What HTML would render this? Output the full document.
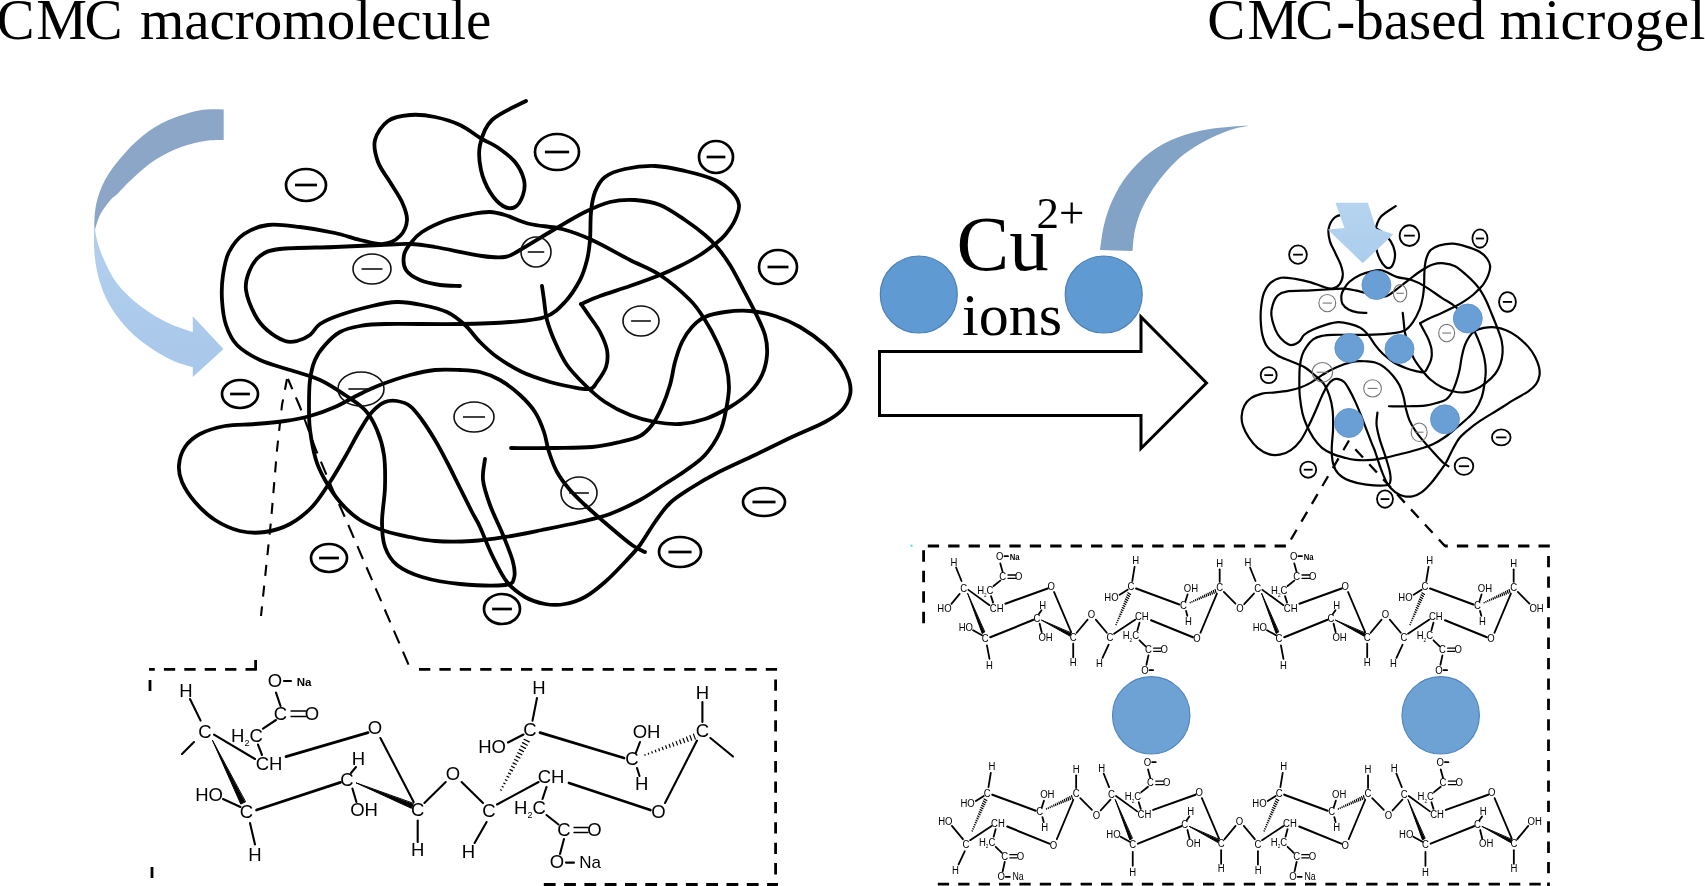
<!DOCTYPE html>
<html><head><meta charset="utf-8"><title>CMC microgel</title>
<style>html,body{margin:0;padding:0;background:#fff}body{width:1705px;height:886px;overflow:hidden}svg{display:block;filter:blur(0.4px)}text{font-family:"Liberation Sans",sans-serif;stroke:none}.s{font-family:"Liberation Serif",serif}path{vector-effect:non-scaling-stroke}.b{stroke-width:var(--bw)}.na{font-size:var(--na)}</style></head><body>
<svg width="1705" height="886" viewBox="0 0 1705 886">
<defs>
<g id="curves" fill="none" stroke="#000" stroke-linecap="round" stroke-linejoin="round"><path vector-effect="non-scaling-stroke" d="M526.0,101.0C520.3,104.2 499.7,112.7 492.0,120.0C484.3,127.3 481.8,136.7 480.0,145.0C478.2,153.3 479.3,162.2 481.0,170.0C482.7,177.8 486.3,186.0 490.0,192.0C493.7,198.0 498.8,203.5 503.0,206.0C507.2,208.5 511.7,208.8 515.0,207.0C518.3,205.2 521.5,199.5 523.0,195.0C524.5,190.5 525.3,185.5 524.0,180.0C522.7,174.5 519.5,167.5 515.0,162.0C510.5,156.5 502.5,150.8 497.0,147.0C491.5,143.2 488.2,142.7 482.0,139.0C475.8,135.3 467.8,128.7 460.0,125.0C452.2,121.3 443.3,118.7 435.0,117.0C426.7,115.3 417.8,114.3 410.0,115.0C402.2,115.7 393.8,116.8 388.0,121.0C382.2,125.2 376.7,133.2 375.0,140.0C373.3,146.8 375.5,155.0 378.0,162.0C380.5,169.0 386.0,175.3 390.0,182.0C394.0,188.7 399.2,195.7 402.0,202.0C404.8,208.3 407.3,214.3 407.0,220.0C406.7,225.7 404.0,232.0 400.0,236.0C396.0,240.0 389.7,243.3 383.0,244.0C376.3,244.7 368.0,241.8 360.0,240.0C352.0,238.2 345.0,235.2 335.0,233.0C325.0,230.8 311.2,228.3 300.0,227.0C288.8,225.7 277.3,223.8 268.0,225.0C258.7,226.2 250.5,229.5 244.0,234.0C237.5,238.5 232.5,245.2 229.0,252.0C225.5,258.8 224.2,267.0 223.0,275.0C221.8,283.0 221.5,291.7 222.0,300.0C222.5,308.3 223.5,317.5 226.0,325.0C228.5,332.5 231.3,339.2 237.0,345.0C242.7,350.8 251.2,355.8 260.0,360.0C268.8,364.2 280.0,366.7 290.0,370.0C300.0,373.3 310.8,375.8 320.0,380.0C329.2,384.2 337.5,390.0 345.0,395.0C352.5,400.0 359.7,404.2 365.0,410.0C370.3,415.8 373.8,422.5 377.0,430.0C380.2,437.5 382.7,445.5 384.0,455.0C385.3,464.5 385.3,475.8 385.0,487.0C384.7,498.2 382.0,512.0 382.0,522.0C382.0,532.0 382.5,539.8 385.0,547.0C387.5,554.2 390.8,560.0 397.0,565.0C403.2,570.0 411.5,573.8 422.0,577.0C432.5,580.2 446.2,582.7 460.0,584.0C473.8,585.3 496.0,586.0 505.0,585.0C514.0,584.0 512.7,581.8 514.0,578.0C515.3,574.2 514.8,569.2 513.0,562.0C511.2,554.8 506.8,544.5 503.0,535.0C499.2,525.5 493.3,514.2 490.0,505.0C486.7,495.8 483.8,487.7 483.0,480.0C482.2,472.3 484.7,462.5 485.0,459.0"/><path vector-effect="non-scaling-stroke" d="M542.0,286.0C542.3,288.3 543.2,294.3 544.0,300.0C544.8,305.7 545.2,313.0 547.0,320.0C548.8,327.0 551.7,334.5 555.0,342.0C558.3,349.5 562.0,357.8 567.0,365.0C572.0,372.2 578.7,378.8 585.0,385.0C591.3,391.2 597.5,397.0 605.0,402.0C612.5,407.0 621.7,411.7 630.0,415.0C638.3,418.3 646.7,420.5 655.0,422.0C663.3,423.5 671.7,424.5 680.0,424.0C688.3,423.5 696.7,421.8 705.0,419.0C713.3,416.2 722.5,411.5 730.0,407.0C737.5,402.5 744.7,397.3 750.0,392.0C755.3,386.7 759.2,381.2 762.0,375.0C764.8,368.8 766.5,361.7 767.0,355.0C767.5,348.3 767.0,342.2 765.0,335.0C763.0,327.8 758.8,320.0 755.0,312.0C751.2,304.0 746.2,294.8 742.0,287.0C737.8,279.2 734.2,271.7 730.0,265.0C725.8,258.3 721.2,252.0 717.0,247.0C712.8,242.0 710.3,239.5 705.0,235.0C699.7,230.5 692.5,225.0 685.0,220.0C677.5,215.0 668.3,208.3 660.0,205.0C651.7,201.7 643.3,200.5 635.0,200.0C626.7,199.5 618.3,200.0 610.0,202.0C601.7,204.0 594.2,207.5 585.0,212.0C575.8,216.5 565.8,222.7 555.0,229.0C544.2,235.3 528.3,245.3 520.0,250.0C511.7,254.7 511.3,256.0 505.0,257.0C498.7,258.0 493.7,257.7 482.0,256.0C470.3,254.3 447.0,249.0 435.0,247.0C423.0,245.0 419.2,244.3 410.0,244.0C400.8,243.7 392.5,244.5 380.0,245.0C367.5,245.5 351.7,246.3 335.0,247.0C318.3,247.7 292.5,247.5 280.0,249.0C267.5,250.5 265.2,252.2 260.0,256.0C254.8,259.8 251.3,266.3 249.0,272.0C246.7,277.7 245.0,282.8 246.0,290.0C247.0,297.2 251.5,308.3 255.0,315.0C258.5,321.7 262.0,325.7 267.0,330.0C272.0,334.3 280.0,339.2 285.0,341.0C290.0,342.8 292.8,342.0 297.0,341.0C301.2,340.0 306.2,337.8 310.0,335.0C313.8,332.2 315.0,327.3 320.0,324.0C325.0,320.7 331.3,318.0 340.0,315.0C348.7,312.0 362.5,308.2 372.0,306.0C381.5,303.8 388.7,302.2 397.0,302.0C405.3,301.8 413.7,303.3 422.0,305.0C430.3,306.7 439.8,308.7 447.0,312.0C454.2,315.3 459.5,320.0 465.0,325.0C470.5,330.0 474.7,336.7 480.0,342.0C485.3,347.3 490.0,352.0 497.0,357.0C504.0,362.0 513.2,367.8 522.0,372.0C530.8,376.2 541.7,379.5 550.0,382.0C558.3,384.5 565.3,385.8 572.0,387.0C578.7,388.2 585.8,389.8 590.0,389.0C594.2,388.2 594.3,385.7 597.0,382.0C599.7,378.3 604.3,372.3 606.0,367.0C607.7,361.7 608.0,355.8 607.0,350.0C606.0,344.2 602.8,337.5 600.0,332.0C597.2,326.5 593.2,321.7 590.0,317.0C586.8,312.3 582.5,306.2 581.0,304.0"/><path vector-effect="non-scaling-stroke" d="M581.0,304.0C584.2,302.7 591.8,299.0 600.0,296.0C608.2,293.0 620.0,289.5 630.0,286.0C640.0,282.5 651.7,278.3 660.0,275.0C668.3,271.7 673.3,269.3 680.0,266.0C686.7,262.7 694.2,258.7 700.0,255.0C705.8,251.3 710.8,247.3 715.0,244.0C719.2,240.7 721.7,239.0 725.0,235.0C728.3,231.0 732.7,225.0 735.0,220.0C737.3,215.0 739.5,209.7 739.0,205.0C738.5,200.3 736.0,196.2 732.0,192.0C728.0,187.8 722.8,183.5 715.0,180.0C707.2,176.5 695.0,173.3 685.0,171.0C675.0,168.7 665.0,166.3 655.0,166.0C645.0,165.7 633.3,167.2 625.0,169.0C616.7,170.8 610.0,173.2 605.0,177.0C600.0,180.8 597.3,186.2 595.0,192.0C592.7,197.8 591.8,204.0 591.0,212.0C590.2,220.0 590.7,232.0 590.0,240.0C589.3,248.0 588.7,253.3 587.0,260.0C585.3,266.7 583.7,273.0 580.0,280.0C576.3,287.0 570.8,295.8 565.0,302.0C559.2,308.2 554.2,313.7 545.0,317.0C535.8,320.3 524.2,320.8 510.0,322.0C495.8,323.2 480.8,323.7 460.0,324.0C439.2,324.3 401.7,323.7 385.0,324.0C368.3,324.3 367.5,324.7 360.0,326.0C352.5,327.3 345.8,328.8 340.0,332.0C334.2,335.2 329.2,340.3 325.0,345.0C320.8,349.7 317.5,354.2 315.0,360.0C312.5,365.8 311.0,372.5 310.0,380.0C309.0,387.5 309.0,396.7 309.0,405.0C309.0,413.3 308.8,420.8 310.0,430.0C311.2,439.2 313.5,451.7 316.0,460.0C318.5,468.3 321.0,473.0 325.0,480.0C329.0,487.0 334.2,495.3 340.0,502.0C345.8,508.7 352.5,515.2 360.0,520.0C367.5,524.8 376.7,528.2 385.0,531.0C393.3,533.8 401.7,535.3 410.0,537.0C418.3,538.7 424.7,540.3 435.0,541.0C445.3,541.7 460.3,541.7 472.0,541.0C483.7,540.3 493.3,538.8 505.0,537.0C516.7,535.2 529.5,532.5 542.0,530.0C554.5,527.5 568.7,524.7 580.0,522.0C591.3,519.3 600.0,517.7 610.0,514.0C620.0,510.3 630.8,505.0 640.0,500.0C649.2,495.0 657.5,488.8 665.0,484.0C672.5,479.2 678.3,475.8 685.0,471.0C691.7,466.2 699.2,461.5 705.0,455.0C710.8,448.5 716.5,439.5 720.0,432.0C723.5,424.5 724.5,417.5 726.0,410.0C727.5,402.5 729.0,394.5 729.0,387.0C729.0,379.5 728.0,372.5 726.0,365.0C724.0,357.5 720.5,349.5 717.0,342.0C713.5,334.5 709.5,327.0 705.0,320.0C700.5,313.0 697.5,307.5 690.0,300.0C682.5,292.5 670.0,281.7 660.0,275.0C650.0,268.3 641.3,265.8 630.0,260.0C618.7,254.2 603.3,245.2 592.0,240.0C580.7,234.8 572.3,231.7 562.0,229.0C551.7,226.3 539.5,226.3 530.0,224.0C520.5,221.7 511.7,217.0 505.0,215.0C498.3,213.0 495.5,212.2 490.0,212.0C484.5,211.8 479.2,212.7 472.0,214.0C464.8,215.3 455.3,217.0 447.0,220.0C438.7,223.0 428.2,228.0 422.0,232.0C415.8,236.0 413.0,240.2 410.0,244.0C407.0,247.8 404.7,250.7 404.0,255.0C403.3,259.3 403.3,265.8 406.0,270.0C408.7,274.2 414.3,277.5 420.0,280.0C425.7,282.5 433.3,284.0 440.0,285.0C446.7,286.0 456.7,285.8 460.0,286.0"/><path vector-effect="non-scaling-stroke" d="M645.0,552.0C642.8,550.8 637.8,549.2 632.0,545.0C626.2,540.8 617.8,533.7 610.0,527.0C602.2,520.3 591.7,511.2 585.0,505.0C578.3,498.8 574.7,495.5 570.0,490.0C565.3,484.5 560.5,478.3 557.0,472.0C553.5,465.7 551.2,458.7 549.0,452.0C546.8,445.3 546.3,438.7 544.0,432.0C541.7,425.3 539.0,418.2 535.0,412.0C531.0,405.8 525.8,400.3 520.0,395.0C514.2,389.7 506.7,383.8 500.0,380.0C493.3,376.2 486.7,373.7 480.0,372.0C473.3,370.3 467.5,370.3 460.0,370.0C452.5,369.7 443.3,369.2 435.0,370.0C426.7,370.8 419.2,372.5 410.0,375.0C400.8,377.5 388.3,381.8 380.0,385.0C371.7,388.2 367.5,390.3 360.0,394.0C352.5,397.7 343.3,403.3 335.0,407.0C326.7,410.7 318.3,413.7 310.0,416.0C301.7,418.3 294.2,419.7 285.0,421.0C275.8,422.3 265.0,423.2 255.0,424.0C245.0,424.8 234.2,424.3 225.0,426.0C215.8,427.7 206.7,430.5 200.0,434.0C193.3,437.5 188.5,441.8 185.0,447.0C181.5,452.2 179.5,459.2 179.0,465.0C178.5,470.8 179.3,475.8 182.0,482.0C184.7,488.2 189.5,495.7 195.0,502.0C200.5,508.3 207.5,515.2 215.0,520.0C222.5,524.8 231.7,529.0 240.0,531.0C248.3,533.0 256.7,533.2 265.0,532.0C273.3,530.8 282.2,528.2 290.0,524.0C297.8,519.8 305.3,514.0 312.0,507.0C318.7,500.0 324.5,490.3 330.0,482.0C335.5,473.7 340.0,465.7 345.0,457.0C350.0,448.3 355.5,437.5 360.0,430.0C364.5,422.5 367.8,416.7 372.0,412.0C376.2,407.3 380.8,403.8 385.0,402.0C389.2,400.2 392.8,400.3 397.0,401.0C401.2,401.7 405.8,402.8 410.0,406.0C414.2,409.2 417.8,414.3 422.0,420.0C426.2,425.7 430.8,433.0 435.0,440.0C439.2,447.0 442.8,454.0 447.0,462.0C451.2,470.0 455.8,479.7 460.0,488.0C464.2,496.3 468.7,505.5 472.0,512.0C475.3,518.5 476.7,519.8 480.0,527.0C483.3,534.2 487.5,545.8 492.0,555.0C496.5,564.2 501.5,575.0 507.0,582.0C512.5,589.0 518.7,593.3 525.0,597.0C531.3,600.7 538.3,602.8 545.0,604.0C551.7,605.2 558.3,605.2 565.0,604.0C571.7,602.8 578.3,600.7 585.0,597.0C591.7,593.3 598.3,587.8 605.0,582.0C611.7,576.2 619.2,568.2 625.0,562.0C630.8,555.8 635.0,551.7 640.0,545.0C645.0,538.3 650.0,529.0 655.0,522.0C660.0,515.0 664.0,508.7 670.0,503.0C676.0,497.3 683.2,493.0 691.0,488.0C698.8,483.0 706.3,478.5 717.0,473.0C727.7,467.5 742.5,461.0 755.0,455.0C767.5,449.0 780.3,442.5 792.0,437.0C803.7,431.5 816.7,426.5 825.0,422.0C833.3,417.5 837.8,414.5 842.0,410.0C846.2,405.5 848.8,400.0 850.0,395.0C851.2,390.0 850.7,385.5 849.0,380.0C847.3,374.5 844.0,367.8 840.0,362.0C836.0,356.2 831.7,350.8 825.0,345.0C818.3,339.2 808.3,331.8 800.0,327.0C791.7,322.2 783.3,318.7 775.0,316.0C766.7,313.3 758.3,311.7 750.0,311.0C741.7,310.3 732.5,311.0 725.0,312.0C717.5,313.0 710.5,314.5 705.0,317.0C699.5,319.5 695.8,322.8 692.0,327.0C688.2,331.2 684.8,336.2 682.0,342.0C679.2,347.8 677.0,354.8 675.0,362.0C673.0,369.2 672.2,377.5 670.0,385.0C667.8,392.5 665.0,400.3 662.0,407.0C659.0,413.7 655.7,420.2 652.0,425.0C648.3,429.8 645.3,433.2 640.0,436.0C634.7,438.8 628.0,440.2 620.0,442.0C612.0,443.8 602.8,446.0 592.0,447.0C581.2,448.0 568.5,447.8 555.0,448.0C541.5,448.2 518.3,448.0 511.0,448.0"/></g>
<g id="outer" fill="none" stroke="#000"><ellipse vector-effect="non-scaling-stroke" cx="306" cy="185" rx="20" ry="16"/><path vector-effect="non-scaling-stroke" d="M295,185H317"/><ellipse vector-effect="non-scaling-stroke" cx="557" cy="152" rx="22" ry="18"/><path vector-effect="non-scaling-stroke" d="M544.9,152H569.1"/><ellipse vector-effect="non-scaling-stroke" cx="716" cy="157" rx="17" ry="16"/><path vector-effect="non-scaling-stroke" d="M706.65,157H725.35"/><ellipse vector-effect="non-scaling-stroke" cx="778" cy="267" rx="19" ry="17"/><path vector-effect="non-scaling-stroke" d="M767.55,267H788.45"/><ellipse vector-effect="non-scaling-stroke" cx="240" cy="394" rx="18" ry="14"/><path vector-effect="non-scaling-stroke" d="M230.1,394H249.9"/><ellipse vector-effect="non-scaling-stroke" cx="329" cy="558" rx="18" ry="14"/><path vector-effect="non-scaling-stroke" d="M319.1,558H338.9"/><ellipse vector-effect="non-scaling-stroke" cx="502" cy="609" rx="18" ry="15"/><path vector-effect="non-scaling-stroke" d="M492.1,609H511.9"/><ellipse vector-effect="non-scaling-stroke" cx="680" cy="552" rx="21" ry="15"/><path vector-effect="non-scaling-stroke" d="M668.45,552H691.55"/><ellipse vector-effect="non-scaling-stroke" cx="764" cy="502" rx="21" ry="14"/><path vector-effect="non-scaling-stroke" d="M752.45,502H775.55"/></g>
<g id="inner" fill="none"><ellipse vector-effect="non-scaling-stroke" cx="372" cy="269" rx="19" ry="15"/><path vector-effect="non-scaling-stroke" d="M361.55,269H382.45"/><ellipse vector-effect="non-scaling-stroke" cx="536" cy="252" rx="15" ry="15"/><path vector-effect="non-scaling-stroke" d="M527.75,252H544.25"/><ellipse vector-effect="non-scaling-stroke" cx="641" cy="321" rx="18" ry="15"/><path vector-effect="non-scaling-stroke" d="M631.1,321H650.9"/><ellipse vector-effect="non-scaling-stroke" cx="361" cy="389" rx="23" ry="17"/><path vector-effect="non-scaling-stroke" d="M348.35,389H373.65"/><ellipse vector-effect="non-scaling-stroke" cx="474" cy="417" rx="20" ry="15"/><path vector-effect="non-scaling-stroke" d="M463,417H485"/><ellipse vector-effect="non-scaling-stroke" cx="579" cy="493" rx="18" ry="16"/><path vector-effect="non-scaling-stroke" d="M569.1,493H588.9"/></g>
<g id="r1"><text x="186" y="696.55" font-size="18.5" text-anchor="middle">H</text><text x="205" y="737.55" font-size="18.5" text-anchor="middle">C</text><text x="231" y="741.55" font-size="18.5">H<tspan font-size="9" dy="4">2</tspan><tspan dy="-4">C</tspan></text><text x="269" y="769.55" font-size="18.5" text-anchor="middle">CH</text><text x="280.5" y="719.55" font-size="18.5" text-anchor="middle">C</text><text x="312" y="719.55" font-size="18.5" text-anchor="middle">O</text><path d="M291,711L306,711" stroke-width="1.3"/><path d="M291,716.5L306,716.5" stroke-width="1.3"/><text x="275" y="686.55" font-size="18.5" text-anchor="middle">O</text><text x="375" y="734.15" font-size="18.5" text-anchor="middle">O</text><text x="358.5" y="764.55" font-size="18.5" text-anchor="middle">H</text><text x="347" y="786.05" font-size="18.5" text-anchor="middle">C</text><text x="209" y="800.55" font-size="18.5" text-anchor="middle">HO</text><text x="246.4" y="817.55" font-size="18.5" text-anchor="middle">C</text><text x="364" y="816.15" font-size="18.5" text-anchor="middle">OH</text><text x="417.7" y="815.55" font-size="18.5" text-anchor="middle">C</text><text x="255" y="860.55" font-size="18.5" text-anchor="middle">H</text><text x="417.7" y="855.55" font-size="18.5" text-anchor="middle">H</text><path d="M190,699L200.6,720.6"/><path d="M214,734.7L255,759"/><path d="M212.6,740.6L240.753,804.095L245.247,801.905Z" fill="#000" stroke-width="1"/><path d="M223,799L240.5,807"/><path d="M250,823L255,844.5"/><path d="M256.5,810L340.5,782.4" class="b"/><path d="M286,756.6L368,732.6" class="b"/><path d="M258,744.6L262,755"/><path d="M263,728.6L276,720"/><path d="M276,692.6L280.5,706"/><path d="M380.4,738L413.7,802"/><path d="M356,767L351,773"/><path d="M352.4,788.5L356.4,802"/><path d="M356.4,783L411.45,808.313L413.35,803.687Z" fill="#000" stroke-width="1"/><path d="M417.7,820.5L417.7,842"/></g>
<g id="na1"><path d="M284,681L291,681"/><text x="304" y="686.45" font-size="11.5" text-anchor="middle" font-weight="bold" class="na">Na</text></g>
<g id="mi1"><path d="M284,681L291,681"/></g>
<g id="stubL"><path d="M194,742L182,754"/></g>
<g id="capL"><path d="M197,741L181,757"/><text x="167.5" y="770.55" font-size="18.5" text-anchor="middle">HO</text></g>
<g id="link1"><text x="453" y="780.25" font-size="18.5" text-anchor="middle">O</text><path d="M424.4,803L445.7,782"/><path d="M461.6,782L483,803"/></g>
<g id="capL1"><text x="449" y="780.25" font-size="18.5" text-anchor="middle">HO</text><path d="M461.6,782L483,803"/></g>
<g id="capR1"><text x="458" y="780.25" font-size="18.5" text-anchor="middle">OH</text><path d="M424.4,803L445.7,782"/></g>
<g id="r2"><text x="489" y="816.55" font-size="18.5" text-anchor="middle">C</text><text x="468.5" y="858.05" font-size="18.5" text-anchor="middle">H</text><text x="551" y="783.05" font-size="18.5" text-anchor="middle">CH</text><text x="514" y="813.55" font-size="18.5">H<tspan font-size="9" dy="4">2</tspan><tspan dy="-4">C</tspan></text><text x="564" y="835.55" font-size="18.5" text-anchor="middle">C</text><text x="594.5" y="835.55" font-size="18.5" text-anchor="middle">O</text><path d="M574,827.5L588,827.5" stroke-width="1.3"/><path d="M574,832.5L588,832.5" stroke-width="1.3"/><text x="557" y="868.15" font-size="18.5" text-anchor="middle">O</text><text x="492" y="752.55" font-size="18.5" text-anchor="middle">HO</text><text x="530" y="735.55" font-size="18.5" text-anchor="middle">C</text><text x="539" y="693.55" font-size="18.5" text-anchor="middle">H</text><text x="646.5" y="738.15" font-size="18.5" text-anchor="middle">OH</text><text x="632" y="765.25" font-size="18.5" text-anchor="middle">C</text><text x="641.6" y="790.05" font-size="18.5" text-anchor="middle">H</text><text x="658.4" y="818.05" font-size="18.5" text-anchor="middle">O</text><text x="702.4" y="698.55" font-size="18.5" text-anchor="middle">H</text><text x="702.4" y="736.55" font-size="18.5" text-anchor="middle">C</text><path d="M537,698L532.5,720.6"/><path d="M508,742.5L523.5,734.5"/><path d="M540,732.6L624,758" class="b"/><path d="M529.2,741.9L524.0,739.3M527.3,745.2L522.5,742.6M525.5,748.4L520.9,746.0M523.6,751.6L519.3,749.4M521.8,754.8L517.8,752.7M519.9,758.0L516.2,756.1M518.0,761.2L514.7,759.5M516.2,764.5L513.1,762.9M514.3,767.7L511.6,766.2M512.5,770.9L510.0,769.6M510.6,774.1L508.4,773.0M508.8,777.3L506.9,776.3M506.9,780.5L505.3,779.7M505.1,783.8L503.8,783.1M503.2,787.0L502.2,786.4M501.4,790.2L500.6,789.8" stroke-width="1.2"/><path d="M486.6,822L474.6,843"/><path d="M497,804.5L538.6,782"/><path d="M546.5,787L542.5,799"/><path d="M569,783L650.4,810" class="b"/><path d="M546.5,815L558.5,824.5"/><path d="M564,839L560,854"/><path d="M640,742L636,752.5"/><path d="M637,768L639.5,776"/><path d="M695.3,739.1L693.5,734.1M691.7,740.2L690.0,735.6M688.2,741.4L686.5,737.0M684.6,742.6L683.1,738.5M681.0,743.7L679.6,740.0M677.4,744.9L676.1,741.4M673.8,746.1L672.6,742.9M670.2,747.2L669.2,744.4M666.6,748.4L665.7,745.8M663.1,749.6L662.2,747.3M659.5,750.7L658.8,748.8M655.9,751.9L655.3,750.2M652.3,753.0L651.8,751.7M648.7,754.2L648.3,753.2M645.1,755.4L644.9,754.6" stroke-width="1.2"/><path d="M702.4,702L702.4,722"/><path d="M697,740.6L665,803"/></g>
<g id="r1v"><text x="186" y="696.55" font-size="18.5" text-anchor="middle">H</text><text x="205" y="737.55" font-size="18.5" text-anchor="middle">C</text><text x="231" y="741.55" font-size="18.5">H<tspan font-size="9" dy="4">2</tspan><tspan dy="-4">C</tspan></text><text x="269" y="769.55" font-size="18.5" text-anchor="middle">CH</text><text x="280.5" y="719.55" font-size="18.5" text-anchor="middle">C</text><text x="312" y="719.55" font-size="18.5" text-anchor="middle">O</text><path d="M291,711L306,711" stroke-width="1.3"/><path d="M291,716.5L306,716.5" stroke-width="1.3"/><text x="275" y="686.55" font-size="18.5" text-anchor="middle">O</text><text x="375" y="734.15" font-size="18.5" text-anchor="middle">O</text><text x="358.5" y="764.55" font-size="18.5" text-anchor="middle">H</text><text x="347" y="786.05" font-size="18.5" text-anchor="middle">C</text><text x="209" y="800.55" font-size="18.5" text-anchor="middle">HO</text><text x="246.4" y="817.55" font-size="18.5" text-anchor="middle">C</text><text x="364" y="816.15" font-size="18.5" text-anchor="middle">OH</text><text x="417.7" y="815.55" font-size="18.5" text-anchor="middle">C</text><text x="246.4" y="861.55" font-size="18.5" text-anchor="middle">H</text><text x="417.7" y="855.55" font-size="18.5" text-anchor="middle">H</text><path d="M190,699L200.6,720.6"/><path d="M214,734.7L255,759"/><path d="M212.6,740.6L240.753,804.095L245.247,801.905Z" fill="#000" stroke-width="1"/><path d="M223,799L240.5,807"/><path d="M246.4,823L246.4,845"/><path d="M256.5,810L340.5,782.4" class="b"/><path d="M286,756.6L368,732.6" class="b"/><path d="M258,744.6L262,755"/><path d="M263,728.6L276,720"/><path d="M276,692.6L280.5,706"/><path d="M380.4,738L413.7,802"/><path d="M356,767L351,773"/><path d="M352.4,788.5L356.4,802"/><path d="M356.4,783L411.45,808.313L413.35,803.687Z" fill="#000" stroke-width="1"/><path d="M417.7,820.5L417.7,842"/></g>
<g id="r2v"><text x="489" y="816.55" font-size="18.5" text-anchor="middle">C</text><text x="489.5" y="858.55" font-size="18.5" text-anchor="middle">H</text><text x="551" y="783.05" font-size="18.5" text-anchor="middle">CH</text><text x="514" y="813.55" font-size="18.5">H<tspan font-size="9" dy="4">2</tspan><tspan dy="-4">C</tspan></text><text x="564" y="835.55" font-size="18.5" text-anchor="middle">C</text><text x="594.5" y="835.55" font-size="18.5" text-anchor="middle">O</text><path d="M574,827.5L588,827.5" stroke-width="1.3"/><path d="M574,832.5L588,832.5" stroke-width="1.3"/><text x="557" y="868.15" font-size="18.5" text-anchor="middle">O</text><text x="492" y="752.55" font-size="18.5" text-anchor="middle">HO</text><text x="530" y="735.55" font-size="18.5" text-anchor="middle">C</text><text x="539" y="693.55" font-size="18.5" text-anchor="middle">H</text><text x="646.5" y="738.15" font-size="18.5" text-anchor="middle">OH</text><text x="632" y="765.25" font-size="18.5" text-anchor="middle">C</text><text x="641.6" y="790.05" font-size="18.5" text-anchor="middle">H</text><text x="658.4" y="818.05" font-size="18.5" text-anchor="middle">O</text><text x="702.4" y="698.55" font-size="18.5" text-anchor="middle">H</text><text x="702.4" y="736.55" font-size="18.5" text-anchor="middle">C</text><path d="M537,698L532.5,720.6"/><path d="M508,742.5L523.5,734.5"/><path d="M540,732.6L624,758" class="b"/><path d="M529.2,741.9L524.0,739.3M527.3,745.2L522.5,742.6M525.5,748.4L520.9,746.0M523.6,751.6L519.3,749.4M521.8,754.8L517.8,752.7M519.9,758.0L516.2,756.1M518.0,761.2L514.7,759.5M516.2,764.5L513.1,762.9M514.3,767.7L511.6,766.2M512.5,770.9L510.0,769.6M510.6,774.1L508.4,773.0M508.8,777.3L506.9,776.3M506.9,780.5L505.3,779.7M505.1,783.8L503.8,783.1M503.2,787.0L502.2,786.4M501.4,790.2L500.6,789.8" stroke-width="1.2"/><path d="M489,822L489,843"/><path d="M497,804.5L538.6,782"/><path d="M546.5,787L542.5,799"/><path d="M569,783L650.4,810" class="b"/><path d="M546.5,815L558.5,824.5"/><path d="M564,839L560,854"/><path d="M640,742L636,752.5"/><path d="M637,768L639.5,776"/><path d="M695.3,739.1L693.5,734.1M691.7,740.2L690.0,735.6M688.2,741.4L686.5,737.0M684.6,742.6L683.1,738.5M681.0,743.7L679.6,740.0M677.4,744.9L676.1,741.4M673.8,746.1L672.6,742.9M670.2,747.2L669.2,744.4M666.6,748.4L665.7,745.8M663.1,749.6L662.2,747.3M659.5,750.7L658.8,748.8M655.9,751.9L655.3,750.2M652.3,753.0L651.8,751.7M648.7,754.2L648.3,753.2M645.1,755.4L644.9,754.6" stroke-width="1.2"/><path d="M702.4,702L702.4,722"/><path d="M697,740.6L665,803"/></g>
<g id="na2"><path d="M566,862.6L574,862.6"/><text x="590" y="867.7" font-size="17" text-anchor="middle">Na</text></g>
<g id="mi2"><path d="M566,862.6L573,862.6"/></g>
<g id="stubR"><path d="M710.4,738L733,756.5"/></g>
<g id="link2"><path d="M710.4,738L733,756.5"/><text x="742" y="770.55" font-size="18.5" text-anchor="middle">O</text><path d="M750,757.5L769,740.5"/></g>
<g id="capR2"><path d="M710.4,738L733,756.5"/><text x="747" y="770.55" font-size="18.5" text-anchor="middle">OH</text></g>
<linearGradient id="gA" x1="0" y1="0" x2="0" y2="1"><stop offset="0" stop-color="#b3cfee"/><stop offset="1" stop-color="#a8c8ea"/></linearGradient>
<linearGradient id="gD" x1="0" y1="0" x2="0" y2="1"><stop offset="0" stop-color="#b6d4ef"/><stop offset="1" stop-color="#abcdec"/></linearGradient>
</defs>
<text class="s" x="-3.5 36.3 84.5 125.7" y="39.3" font-size="57">CMC macromolecule</text>
<text class="s" x="1207.3 1247.5 1295.5 1336.3 1355.3 1383.8 1409.1 1431.2 1456.5 1485.3" y="39.3" font-size="57">CMC-based <tspan letter-spacing="0.45">microgel</tspan></text>
<path fill="#8ba6c7" d="M223.7,109.4C219.5,109.6 208.1,108.7 198.7,110.6C189.3,112.5 176.9,116.4 167.5,120.6C158.1,124.8 150.2,129.8 142.5,136.0C134.8,142.2 127.2,150.2 121.0,157.5C114.8,164.8 109.2,172.1 105.0,180.0C100.8,187.9 97.8,196.2 96.0,205.0C94.2,213.8 94.3,228.3 94.0,233.0 L94.0,233.0C95.0,230.0 97.2,220.5 100.0,215.0C102.8,209.5 107.6,203.6 110.5,200.0C113.4,196.4 113.6,197.4 117.5,193.7C121.4,189.9 127.4,183.1 133.7,177.5C139.9,171.9 147.3,165.0 155.0,160.0C162.7,155.0 171.7,150.7 180.0,147.5C188.3,144.3 197.7,142.2 205.0,141.0C212.3,139.8 220.6,140.2 223.7,140.0 Z"/>
<path fill="url(#gA)" d="M94.0,228.0C94.1,232.7 93.7,247.1 94.7,256.4C95.8,265.6 97.5,274.9 100.3,283.5C103.1,292.1 106.7,300.4 111.6,308.3C116.5,316.2 122.8,324.1 129.6,330.9C136.4,337.7 144.7,343.9 152.2,349.0C159.7,354.1 168.0,358.4 174.8,361.4C181.6,364.4 189.8,366.1 192.8,367.0 L192.8,377 L223.5,349 L192.8,316.2 L192.8,332.0C189.1,330.7 177.4,327.2 170.3,324.0C163.2,320.8 156.8,317.3 150.0,312.8C143.2,308.3 135.6,302.6 129.6,297.0C123.6,291.4 118.4,285.8 113.9,279.0C109.4,272.2 105.4,262.9 102.6,256.4C99.8,249.9 98.4,245.4 97.0,240.0C95.6,234.6 94.8,226.7 94.3,224.0 Z"/>
<g fill="none" stroke="#000" stroke-width="2.8"><path stroke-width="2.1" stroke-dasharray="11 9.8" d="M287,379L282,405L277,450L271,521L261,616"/><path stroke-width="2.1" stroke-dasharray="14 9" stroke-dashoffset="3" d="M288,379L300,407L316,450L335,495L347,522L410,668"/><path stroke-dasharray="11.3 9.1" d="M256.8,669.4H149"/><path d="M255.6,670V660"/><path stroke-dasharray="11.3 9.1" d="M777.1,669.3H410"/><path stroke-dasharray="11.3 9.1" d="M775.6,679.5V886"/><path stroke-width="3" stroke-dasharray="11.8 8.5" d="M543.8,884.4H778"/><path d="M150,680V691M152,867V878"/></g>
<g stroke-width="3.8"><use href="#curves"/></g>
<g stroke-width="2.7"><use href="#outer"/></g>
<g stroke-width="1.6" stroke="#111"><use href="#inner"/></g>
<g stroke="#000" stroke-width="2.1" stroke-linecap="round" fill="#000" style="--bw:2.7;--na:11.5px"><g stroke="none"></g><g id="chemL"><use href="#r1"/><use href="#na1"/><use href="#stubL"/><use href="#link1"/><use href="#r2"/><use href="#na2"/><use href="#stubR"/></g></g>
<path fill="#fff" stroke="#000" stroke-width="3" stroke-linejoin="miter" d="M879.5,351.5H1141V317L1206.5,383L1141,448.5V415.5H879.5Z"/>
<g fill="#5f9ad3" stroke="#4b80b6" stroke-width="1.2"><circle cx="918.8" cy="294.5" r="38.5"/><circle cx="1103.7" cy="294.5" r="38.5"/></g>
<text class="s" x="956.5" y="269.5" font-size="79">Cu</text>
<text class="s" x="1036.5" y="228.3" font-size="45">2+</text>
<text class="s" x="962" y="335" font-size="60">ions</text>
<path fill="#82a3c6" d="M1100.0,250.0C1100.7,245.8 1101.9,233.3 1104.0,225.0C1106.1,216.7 1108.6,208.3 1112.5,200.0C1116.4,191.7 1121.2,182.9 1127.5,175.0C1133.8,167.1 1141.7,158.8 1150.0,152.5C1158.3,146.2 1167.5,141.4 1177.5,137.5C1187.5,133.6 1198.3,131.0 1210.0,129.0C1221.7,127.0 1241.2,126.1 1247.5,125.5 L1247.5,126.0C1244.6,126.7 1237.1,127.5 1230.0,130.0C1222.9,132.5 1213.3,136.4 1205.0,141.0C1196.7,145.6 1187.9,150.6 1180.0,157.5C1172.1,164.4 1163.8,174.2 1157.5,182.5C1151.2,190.8 1146.2,199.6 1142.5,207.5C1138.8,215.4 1136.7,222.8 1135.0,230.0C1133.3,237.2 1132.9,247.5 1132.5,251.0 Z"/>
<g transform="matrix(0.4438,0,0,0.5765,1162.2,148.0)"><g stroke-width="2.2"><use href="#curves"/></g><g stroke-width="1.8"><use href="#outer"/></g><g stroke-width="1.1" stroke="#777"><use href="#inner"/></g></g>
<g fill="none" stroke="#000" stroke-width="2.8"><path stroke-width="2.3" stroke-dasharray="11.3 9.4" d="M1349,440.5L1287.4,545.6"/><path stroke-width="2.3" stroke-dasharray="11.3 9.2" d="M1355.3,449.2L1445.3,546.4"/><path stroke-dasharray="11.3 9.1" d="M927.8,546H1289"/><path stroke-dasharray="11.5 9" d="M923.6,550.3V623.3"/><path stroke-dasharray="11.3 9.1" d="M1549.8,546H1445"/><path stroke-dasharray="11.3 9.1" d="M1548.5,556V886"/><path stroke-width="2.8" stroke-dasharray="11.3 9.1" d="M937.8,884.2H1549"/><rect x="910.5" y="544.7" width="2" height="2" fill="#3fe0e8" stroke="none"/></g>
<g fill="#6a9fd6" stroke="#5a8fc6" stroke-width="0.8"><circle cx="1376.4" cy="285" r="14.5"/><circle cx="1467.8" cy="318.5" r="14.5"/><circle cx="1349.3" cy="348" r="14.5"/><circle cx="1399.5" cy="349" r="14.5"/><circle cx="1349" cy="423" r="14.5"/><circle cx="1445" cy="419.3" r="14.5"/></g>
<path fill="url(#gD)" d="M1335.4,202.7H1367.9L1376,228.6L1393.3,234.2L1362.8,263.2L1327.8,229.6L1344.5,228Z"/>
<g stroke="#000" stroke-width="1.8" stroke-linecap="round" fill="#000" style="--bw:2.1;--na:15px"><g transform="matrix(0.5145,0,0,0.628,858.3,128.5)"><use href="#capL"/><use href="#r1"/><use href="#na1"/><use href="#link1"/><use href="#r2"/><use href="#mi2"/><use href="#link2"/><use href="#r1" transform="translate(571.4,0)"/><use href="#na1" transform="translate(571.4,0)"/><use href="#link1" transform="translate(571.4,0)"/><use href="#r2" transform="translate(571.4,0)"/><use href="#mi2" transform="translate(571.4,0)"/><use href="#capR2" transform="translate(571.4,0)"/></g><g transform="matrix(0.516,0,0,0.632,0,331.7)"><use href="#capL1" transform="translate(1383.14,0)"/><use href="#r2" transform="translate(1383.14,0)"/><use href="#na2" transform="translate(1383.14,0)"/><use href="#link2" transform="translate(1383.14,0)"/><use href="#r1v" transform="translate(1948.84,0)"/><use href="#mi1" transform="translate(1948.84,0)"/><use href="#link1" transform="translate(1948.84,0)"/><use href="#r2v" transform="translate(1948.84,0)"/><use href="#na2" transform="translate(1948.84,0)"/><use href="#link2" transform="translate(1948.84,0)"/><use href="#r1v" transform="translate(2516.09,0)"/><use href="#mi1" transform="translate(2516.09,0)"/><use href="#capR1" transform="translate(2516.09,0)"/></g></g>
<g fill="#6fa2d4" stroke="#4f86bd" stroke-width="1.2"><circle cx="1151.2" cy="715.3" r="38.7"/><circle cx="1440.7" cy="715.3" r="38.7"/></g>
</svg>
</body></html>
